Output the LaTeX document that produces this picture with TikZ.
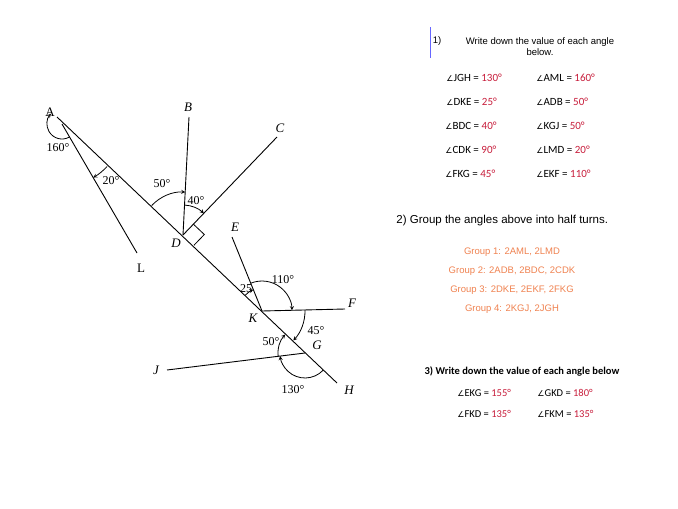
\documentclass[tikz,border=0pt]{standalone}
\usepackage{fontspec}
\usetikzlibrary{calc}
\setmainfont{Liberation Serif}
\newfontfamily\arial{Liberation Sans}
\newfontfamily\calib{Carlito}
\newfontfamily\djv{DejaVu Sans}
\newcommand{\ang}{{\djv\fontsize{8}{8}\selectfont ∠}}
\definecolor{valred}{RGB}{200,30,60}
\definecolor{grporange}{RGB}{240,130,80}
\begin{document}
\begin{tikzpicture}[x=1pt,y=-1pt,line width=0.9pt,
  lab/.style={font=\fontsize{13}{13}\selectfont\itshape,inner sep=0pt},
  deg/.style={font=\fontsize{12}{12}\selectfont,inner sep=0pt},
  arcar/.style={->,>=stealth,line width=0.8pt},
  lst/.style={font=\calib\fontsize{11}{11}\selectfont,anchor=west,inner sep=0pt},
  grp/.style={font=\arial\fontsize{9.5}{10}\selectfont,text=grporange,inner sep=0pt}]
\useasboundingbox (0,0) rectangle (678,509);
\fill[white] (0,0) rectangle (678,509);
% points
\coordinate (S) at (57,117);
\coordinate (A) at (62,124);
\coordinate (H) at (337,383);
\coordinate (D) at (183,235);
\coordinate (B) at (189,117);
\coordinate (C) at (277,137);
\coordinate (L) at (137,253);
\coordinate (K) at (262,311);
\coordinate (E) at (232,237);
\coordinate (F) at (345,309);
\coordinate (G) at (305,353);
\coordinate (J) at (167,370);
\draw (S) -- (H);
\draw (A) -- (L);
\draw (D) -- (B);
\draw (D) -- (C);
\draw (K) -- (E);
\draw (K) -- (F);
\draw (J) -- (G);
% right angle
\draw[line width=0.8pt] ($(D)+(314:15)$) -- ++(43.3:15) -- ($(D)+(43.3:15)$);
% arcs
\draw[arcar] ([shift={(60:15)}]A) arc[start angle=60,end angle=223,radius=15];
\draw[arcar] ([shift={(43.3:62)}]A) arc[start angle=43.3,end angle=59.8,radius=62];
\draw[arcar] ([shift={(223.3:43)}]D) arc[start angle=223.3,end angle=273,radius=43];
\draw[arcar] ([shift={(273:30)}]D) arc[start angle=273,end angle=314,radius=30];
\draw[arcar] ([shift={(223.3:23)}]K) arc[start angle=223.3,end angle=248,radius=23];
\draw[arcar] ([shift={(248:30)}]K) arc[start angle=248,end angle=358.6,radius=30];
\draw[arcar] ([shift={(-1.4:43)}]K) arc[start angle=-1.4,end angle=43.3,radius=43];
\draw[arcar] ([shift={(173:27)}]G) arc[start angle=173,end angle=223.3,radius=27];
\draw[arcar] ([shift={(43.3:25)}]G) arc[start angle=43.3,end angle=173,radius=25];
% labels
\node[lab,font=\fontsize{13}{13}\selectfont] (lA) at (50,112) {A};
\node[lab] (lB) at (188,107) {B};
\node[lab] (lC) at (280,128) {C};
\node[lab] (lD) at (176,243) {D};
\node[lab] (lE) at (235,227) {E};
\node[lab] (lF) at (352,303) {F};
\node[lab] (lG) at (317,345) {G};
\node[lab] (lH) at (349,390) {H};
\node[lab] (lJ) at (156,370) {J};
\node[lab] (lK) at (253,318) {K};
\node[lab,font=\fontsize{13}{13}\selectfont] (lL) at (141,268) {L};
\node[deg] (d160) at (58,148) {160°};
\node[deg] (d20) at (111,181) {20°};
\node[deg] (d50a) at (162,184) {50°};
\node[deg] (d40) at (196,201) {40°};
\node[deg] (d25) at (246,289) {25};
\node[deg] (d110) at (283,280) {110°};
\node[deg] (d45) at (316,331) {45°};
\node[deg] (d50b) at (271,342) {50°};
\node[deg] (d130) at (293,390) {130°};
% right text
\draw[blue!60,line width=0.6pt] (430,27) -- (430,58);
\node[font=\arial\fontsize{9.5}{10}\selectfont,inner sep=0pt] (n1) at (437,41) {1)};
\node[font=\arial\fontsize{9.5}{11}\selectfont,inner sep=0pt,align=center] (q1) at (540,47) {Write down the value of each angle\\below.};
\node[lst] (a1) at (446,78) {\ang JGH = \textcolor{valred}{130°}};
\node[lst] (a2) at (536,78) {\ang AML = \textcolor{valred}{160°}};
\node[lst] (a3) at (446,102) {\ang DKE = \textcolor{valred}{25°}};
\node[lst] (a4) at (536,102) {\ang ADB = \textcolor{valred}{50°}};
\node[lst] (a5) at (445,126) {\ang BDC = \textcolor{valred}{40°}};
\node[lst] (a6) at (536,126) {\ang KGJ = \textcolor{valred}{50°}};
\node[lst] (a7) at (445,150) {\ang CDK = \textcolor{valred}{90°}};
\node[lst] (a8) at (536,150) {\ang LMD = \textcolor{valred}{20°}};
\node[lst] (a9) at (445,174) {\ang FKG = \textcolor{valred}{45°}};
\node[lst] (a10) at (536,174) {\ang EKF = \textcolor{valred}{110°}};
\node[font=\arial\fontsize{11.5}{12}\selectfont,anchor=west,inner sep=0pt] (q2) at (396,221) {2) Group the angles above into half turns.};
\node[grp] (g1) at (512,252) {Group 1: 2AML, 2LMD};
\node[grp] (g2) at (512,271) {Group 2: 2ADB, 2BDC, 2CDK};
\node[grp] (g3) at (512,290) {Group 3: 2DKE, 2EKF, 2FKG};
\node[grp] (g4) at (512,309) {Group 4: 2KGJ, 2JGH};
\node[font=\calib\bfseries\fontsize{10.5}{11}\selectfont,inner sep=0pt] (q3) at (522,371) {3) Write down the value of each angle below};
\node[lst,font=\calib\fontsize{10.5}{11}\selectfont] (b1) at (457,393) {\ang EKG = \textcolor{valred}{155°}};
\node[lst,font=\calib\fontsize{10.5}{11}\selectfont] (b2) at (537,393) {\ang GKD = \textcolor{valred}{180°}};
\node[lst,font=\calib\fontsize{10.5}{11}\selectfont] (b3) at (457,414) {\ang FKD = \textcolor{valred}{135°}};
\node[lst,font=\calib\fontsize{10.5}{11}\selectfont] (b4) at (537,414) {\ang FKM = \textcolor{valred}{135°}};
\end{tikzpicture}
\end{document}
